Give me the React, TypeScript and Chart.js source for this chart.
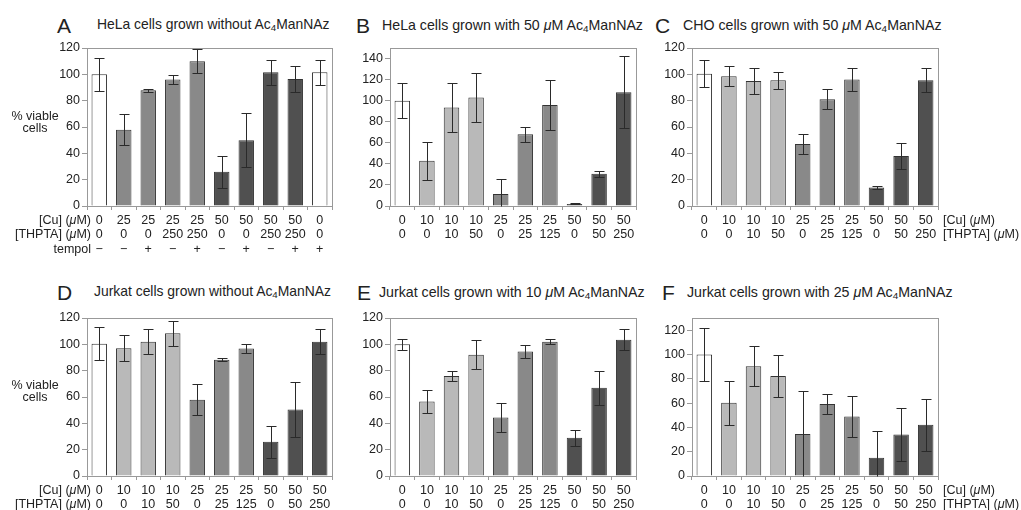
import React, { useEffect, useRef } from "react";
import { Chart, registerables } from "chart.js";

Chart.register(...registerables);

const FONT = "'Liberation Sans', Arial, Helvetica, sans-serif";

// ---- Tick label rows ----
const cuA = ["0", "25", "25", "25", "25", "50", "50", "50", "50", "0"];
const thptaA = ["0", "0", "0", "250", "250", "0", "0", "250", "250", "0"];
const tempolA = ["−", "−", "+", "−", "+", "−", "+", "−", "+", "+"];
const cuStd = ["0", "10", "10", "10", "25", "25", "25", "50", "50", "50"];
const thptaStd = ["0", "0", "10", "50", "0", "25", "125", "0", "50", "250"];

// ---- Series values (% viable cells) and error bars ----
const valuesA = [100, 58, 88, 96, 110, 26, 50, 101.5, 96.5, 101.5];
const errorsA = [12.5, 11.5, 1.2, 3.5, 9, 12, 20.5, 9.3, 10, 9.3];
const valuesB = [100, 43, 93.5, 103, 11.5, 68, 96, 2, 30.5, 108];
const errorsB = [16.5, 18, 23.5, 23.7, 14.3, 7, 24, 0.5, 3, 34.3];
const valuesC = [100.5, 98.5, 95, 95.5, 47, 81, 96, 14, 38, 95.5];
const errorsC = [10.4, 7.6, 10, 6.3, 7.4, 7.6, 9, 1.3, 10, 9];
const valuesD = [100.5, 97, 102, 108.5, 58, 88.3, 96.8, 26, 50.5, 102];
const errorsD = [12.5, 10, 9.5, 9.4, 11.5, 1, 3.2, 12, 20.7, 9.3];
const valuesE = [100, 56.5, 76, 92, 44.5, 94.5, 102, 29, 67, 103.5];
const errorsE = [4.2, 8.9, 4, 11, 11, 5, 2, 6.3, 12.7, 7.9];
const valuesF = [100, 60.3, 90.4, 82.2, 34.5, 59.2, 49, 15.1, 34.2, 42.2];
const errorsF = [21.5, 18, 16.5, 17, 35.5, 8.4, 17, 22, 21.5, 21.3];

// ---- Styles ----
const W = "#ffffff";
const L = "#b9b9b9";
const M = "#898989";
const D = "#505050";
const colorsA = [W, M, M, M, M, D, D, D, D, W];
const colorsStd = [W, L, L, L, M, M, M, D, D, D];

const zip = (...rows: string[][]) => rows[0].map((_, i) => rows.map((r) => r[i]));

const framePlugin = {
  id: "frame",
  beforeDatasetsDraw(chart: any) {
    const { ctx, chartArea } = chart;
    ctx.save();
    ctx.strokeStyle = "#999";
    ctx.lineWidth = 1;
    ctx.strokeRect(
      Math.round(chartArea.left) + 0.5,
      Math.round(chartArea.top) + 0.5,
      Math.round(chartArea.right - chartArea.left),
      Math.round(chartArea.bottom - chartArea.top)
    );
    ctx.restore();
  },
};

const errorPlugin = {
  id: "errorBars",
  afterDatasetsDraw(chart: any) {
    const { ctx } = chart;
    const y = chart.scales.y;
    const ds = chart.data.datasets[0];
    const errs: number[] = ds.errors || [];
    const meta = chart.getDatasetMeta(0);
    ctx.save();
    ctx.strokeStyle = "#2a2a2a";
    ctx.lineWidth = 1;
    meta.data.forEach((bar: any, i: number) => {
      const v = ds.data[i];
      const e = errs[i] || 0;
      const x = Math.round(bar.x) + 0.5;
      const lo = v - e;
      const yt = Math.round(y.getPixelForValue(v + e)) + 0.5;
      const yb = Math.round(y.getPixelForValue(Math.max(lo, 0))) + 0.5;
      const cap = 5;
      ctx.beginPath();
      ctx.moveTo(x, yt);
      ctx.lineTo(x, yb);
      ctx.moveTo(x - cap, yt);
      ctx.lineTo(x + cap, yt);
      if (lo > 0) {
        ctx.moveTo(x - cap, yb);
        ctx.lineTo(x + cap, yb);
      }
      ctx.stroke();
    });
    ctx.restore();
  },
};

type Area = { left: number; right: number; top: number; bottom: number };

function Panel(props: {
  left: number;
  top: number;
  width: number;
  height: number;
  area: Area;
  labels: string[][];
  values: number[];
  errors: number[];
  colors: string[];
  max: number;
}) {
  const ref = useRef<HTMLCanvasElement>(null);
  const { left, top, width, height, area, labels, values, errors, colors, max } = props;
  useEffect(() => {
    const tickFont = { family: FONT, size: 12.5, lineHeight: 1.17 };
    const chart = new Chart(ref.current as HTMLCanvasElement, {
      type: "bar",
      data: {
        labels,
        datasets: [
          {
            data: values,
            backgroundColor: colors,
            borderColor: "#333",
            borderWidth: 1,
            barPercentage: 0.63,
            categoryPercentage: 1,
            errors,
          } as any,
        ],
      },
      options: {
        animation: false,
        responsive: false,
        maintainAspectRatio: false,
        layout: {
          padding: { top: area.top - top, right: left + width - area.right, left: 0, bottom: 0 },
        },
        plugins: {
          legend: { display: false },
          tooltip: { enabled: false },
          title: { display: false },
        },
        scales: {
          x: {
            offset: true,
            grid: { offset: true, drawOnChartArea: false, tickLength: 4, color: "#999" },
            border: { color: "#999" },
            ticks: { font: tickFont, color: "#222", padding: 3, maxRotation: 0, autoSkip: false },
            afterFit: (s: any) => {
              s.height = top + height - area.bottom;
            },
          },
          y: {
            min: 0,
            max,
            grid: { drawOnChartArea: false, tickLength: 5, color: "#999" },
            border: { color: "#999" },
            ticks: { stepSize: 20, includeBounds: false, font: tickFont, color: "#222", padding: 2 },
            afterFit: (s: any) => {
              s.width = area.left - left;
            },
          },
        },
      } as any,
      plugins: [framePlugin, errorPlugin],
    });
    return () => chart.destroy();
  }, []);
  return (
    <canvas
      ref={ref}
      width={width}
      height={height}
      style={{ position: "absolute", left, top, width, height }}
    />
  );
}

function T(props: { x: number; y: number; size?: number; right?: boolean; children: any }) {
  const { x, y, size = 12.5, right, children } = props;
  return (
    <div
      style={{
        position: "absolute",
        left: x,
        top: y,
        transform: right ? "translate(-100%, -50%)" : "translateY(-50%)",
        fontSize: size,
        lineHeight: 1,
        whiteSpace: "nowrap",
      }}
    >
      {children}
    </div>
  );
}

const Sub = () => (
  <sub style={{ fontSize: "0.7em", verticalAlign: "-0.25em", lineHeight: 0 }}>4</sub>
);
const Mu = () => <i>μ</i>;

export default function App() {
  const TL = 13.9;
  const TS = 14.2;
  const LS = 21;
  return (
    <div
      style={{
        position: "absolute",
        left: 0,
        top: 0,
        width: 1021,
        height: 510,
        background: "#fff",
        fontFamily: FONT,
        color: "#222",
        overflow: "hidden",
      }}
    >
      {/* Panel A */}
      <Panel left={0} top={38} width={340} height={218} area={{ left: 87, right: 332, top: 48, bottom: 206 }}
        labels={zip(cuA, thptaA, tempolA)} values={valuesA} errors={errorsA} colors={colorsA} max={120} />
      {/* Panel B */}
      <Panel left={340} top={38} width={305} height={218} area={{ left: 390, right: 636, top: 48, bottom: 206 }}
        labels={zip(cuStd, thptaStd)} values={valuesB} errors={errorsB} colors={colorsStd} max={150} />
      {/* Panel C */}
      <Panel left={645} top={38} width={376} height={218} area={{ left: 692, right: 938, top: 48, bottom: 206 }}
        labels={zip(cuStd, thptaStd)} values={valuesC} errors={errorsC} colors={colorsStd} max={120} />
      {/* Panel D */}
      <Panel left={0} top={308} width={340} height={202} area={{ left: 87, right: 332, top: 318, bottom: 476 }}
        labels={zip(cuStd, thptaStd)} values={valuesD} errors={errorsD} colors={colorsStd} max={120} />
      {/* Panel E */}
      <Panel left={340} top={308} width={305} height={202} area={{ left: 390, right: 636, top: 318, bottom: 476 }}
        labels={zip(cuStd, thptaStd)} values={valuesE} errors={errorsE} colors={colorsStd} max={120} />
      {/* Panel F */}
      <Panel left={645} top={308} width={376} height={202} area={{ left: 692, right: 938, top: 318, bottom: 476 }}
        labels={zip(cuStd, thptaStd)} values={valuesF} errors={errorsF} colors={colorsStd} max={130} />

      {/* Titles */}
      <T x={57} y={25} size={LS}>A</T>
      <T x={97} y={25} size={TL}>HeLa cells grown without Ac<Sub />ManNAz</T>
      <T x={356} y={25} size={LS}>B</T>
      <T x={382} y={25} size={TS}>HeLa cells grown with 50 <Mu />M Ac<Sub />ManNAz</T>
      <T x={655} y={25} size={LS}>C</T>
      <T x={683} y={25} size={TS}>CHO cells grown with 50 <Mu />M Ac<Sub />ManNAz</T>
      <T x={57} y={292} size={LS}>D</T>
      <T x={94} y={292} size={TL}>Jurkat cells grown without Ac<Sub />ManNAz</T>
      <T x={357} y={292} size={LS}>E</T>
      <T x={379} y={292} size={TS}>Jurkat cells grown with 10 <Mu />M Ac<Sub />ManNAz</T>
      <T x={662} y={292} size={LS}>F</T>
      <T x={687} y={292} size={TS}>Jurkat cells grown with 25 <Mu />M Ac<Sub />ManNAz</T>

      {/* Y axis titles */}
      <div style={{ position: "absolute", left: 5, width: 60, top: 111, textAlign: "center", fontSize: 12.5, lineHeight: "11.5px" }}>
        % viable<br />cells
      </div>
      <div style={{ position: "absolute", left: 5, width: 60, top: 380, textAlign: "center", fontSize: 12.5, lineHeight: "11.5px" }}>
        % viable<br />cells
      </div>

      {/* Row headers */}
      <T x={91} y={219.5} right>[Cu] (<Mu />M)</T>
      <T x={91} y={234} right>[THPTA] (<Mu />M)</T>
      <T x={91} y={248.5} right>tempol</T>
      <T x={943} y={219.5}>[Cu] (<Mu />M)</T>
      <T x={943} y={234}>[THPTA] (<Mu />M)</T>
      <T x={91} y={489.5} right>[Cu] (<Mu />M)</T>
      <T x={91} y={504} right>[THPTA] (<Mu />M)</T>
      <T x={943} y={489.5}>[Cu] (<Mu />M)</T>
      <T x={943} y={504}>[THPTA] (<Mu />M)</T>
    </div>
  );
}
